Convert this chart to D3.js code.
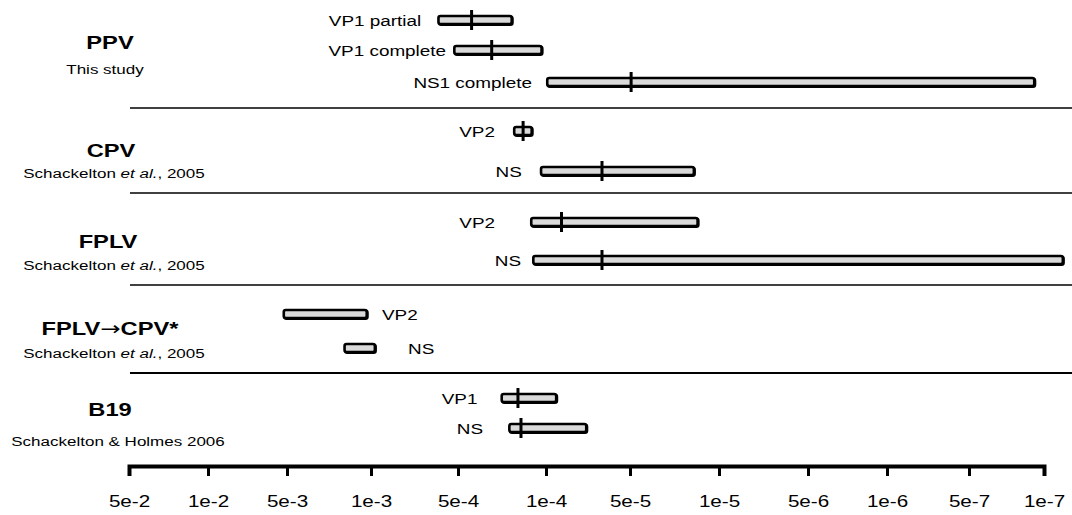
<!DOCTYPE html>
<html>
<head>
<meta charset="utf-8">
<script src="https://cdn.jsdelivr.net/npm/d3@7"></script>
<style>
  html, body { margin: 0; padding: 0; background: #fff; }
  svg { display: block; font-family: "Liberation Sans", Arial, sans-serif; }
</style>
</head>
<body>
<svg id="chart" width="1072" height="515"></svg>
<script>
// ---------------- DATA ----------------
const tickValues = [5e-2, 1e-2, 5e-3, 1e-3, 5e-4, 1e-4, 5e-5, 1e-5, 5e-6, 1e-6, 5e-7, 1e-7];
const tickLabels = ["5e-2", "1e-2", "5e-3", "1e-3", "5e-4", "1e-4", "5e-5", "1e-5", "5e-6", "1e-6", "5e-7", "1e-7"];

const groupNames = [
  [["PPV", 0]],
  [["CPV", 0]],
  [["FPLV", 0]],
  [["FPLV", 0], ["\u2192", 1], ["CPV*", 0]],
  [["B19", 0]]
];
const groupRefs = [
  [["This study", false]],
  [["Schackelton ", false], ["et al.", true], [", 2005", false]],
  [["Schackelton ", false], ["et al.", true], [", 2005", false]],
  [["Schackelton ", false], ["et al.", true], [", 2005", false]],
  [["Schackelton & Holmes 2006", false]]
];

const rowGroup  = [0, 0, 0, 1, 1, 2, 2, 3, 3, 4, 4];
const rowLabels = ["VP1 partial", "VP1 complete", "NS1 complete", "VP2", "NS", "VP2", "NS", "VP2", "NS", "VP1", "NS"];
// substitution rates (subs/site/year): upper HPD, lower HPD, mean
const rateHigh  = [5.9e-4, 5.2e-4, 1.0e-4, 1.83e-4, 1.12e-4, 1.34e-4, 1.29e-4, 5.2e-3, 1.7e-3, 2.3e-4, 2.0e-4];
const rateLow   = [1.83e-4, 1.06e-4, 1.2e-7, 1.27e-4, 1.54e-5, 1.44e-5, 6.5e-8, 1.06e-3, 9.6e-4, 9.1e-5, 7.1e-5];
const rateMean  = [3.9e-4, 2.7e-4, 4.9e-5, 1.52e-4, 6.3e-5, 8.8e-5, 6.3e-5, null, null, 1.67e-4, 1.58e-4];

// ---------------- LAYOUT ----------------
const W = 1072, H = 515;
const xRange = [129, 208, 287, 371, 458, 546, 630, 719, 808, 887, 969, 1044];
const rowY = [20, 50, 82, 131, 171, 222, 260, 314, 348, 398, 428];
const sepY = [108, 193, 285, 373];
const axisY = 466;
const titleY = [49, 157, 248, 335, 416];
const titleX = [110, 111, 108, 110, 110];
const refY = [74, 178, 270, 358, 446];
const refX = [105, 114, 114, 114, 118];
const labelSide = ["l", "l", "l", "l", "l", "l", "l", "r", "r", "l", "l"];
const labelGap = [16, 7, 14, 18, 18, 35, 11, 14, 32, 23, 25];

const svg = d3.select("#chart");

const x = d3.scaleLog().domain(tickValues).range(xRange);
const rows = d3.range(rowLabels.length);
const y = d3.scaleOrdinal().domain(rows).range(rowY);

// separators
svg.append("g").selectAll("line").data(sepY).join("line")
  .attr("x1", 130).attr("x2", W)
  .attr("y1", d => d).attr("y2", d => d)
  .attr("stroke", "#000")
  .attr("stroke-width", (d, i) => i === sepY.length - 1 ? 2 : 1.3);

// group titles
const gt = svg.append("g");
groupNames.forEach((parts, i) => {
  const tt = gt.append("g").attr("transform", `translate(${titleX[i]},${titleY[i]})`)
    .append("text")
    .attr("transform", "scale(1.28,1)")
    .attr("text-anchor", "middle")
    .attr("font-weight", "bold")
    .attr("font-size", 18.5)
    .attr("fill", "#000");
  parts.forEach(([s, arrow]) => {
    const sp = tt.append("tspan").text(s);
    if (arrow) sp.attr("font-family", "DejaVu Sans").attr("font-weight", "normal").attr("font-size", 19);
  });
  const t = gt.append("g").attr("transform", `translate(${refX[i]},${refY[i]})`)
    .append("text")
    .attr("transform", "scale(1.26,1)")
    .attr("text-anchor", "middle")
    .attr("font-size", 13.5)
    .attr("fill", "#000");
  groupRefs[i].forEach(([s, it]) => {
    t.append("tspan").attr("font-style", it ? "italic" : "normal").text(s);
  });
});

// bars
const barH = 8;
const gb = svg.append("g");
// slight shadow on bottom/right like the reference
gb.append("g").selectAll("rect").data(rows).join("rect")
  .attr("x", i => x(rateHigh[i]) + 2)
  .attr("y", i => y(i) - barH / 2 + 0.8)
  .attr("width", i => x(rateLow[i]) - x(rateHigh[i]) - 2.5)
  .attr("height", barH)
  .attr("rx", 2).attr("ry", 2)
  .attr("fill", "none")
  .attr("stroke", "#000")
  .attr("stroke-width", 2.6);
gb.append("g").selectAll("rect").data(rows).join("rect")
  .attr("x", i => x(rateHigh[i]) + 1.25)
  .attr("y", i => y(i) - barH / 2)
  .attr("width", i => x(rateLow[i]) - x(rateHigh[i]) - 2.5)
  .attr("height", barH)
  .attr("rx", 2).attr("ry", 2)
  .attr("fill", "#d9d9d9")
  .attr("stroke", "#000")
  .attr("stroke-width", 2.6);

gb.append("g").selectAll("line").data(rows.filter(i => rateMean[i] != null)).join("line")
  .attr("x1", i => x(rateMean[i])).attr("x2", i => x(rateMean[i]))
  .attr("y1", i => y(i) - 10).attr("y2", i => y(i) + 10)
  .attr("stroke", "#000").attr("stroke-width", 3);

// row labels
const gl = svg.append("g");
rows.forEach(i => {
  const left = labelSide[i] === "l";
  const xx = left ? x(rateHigh[i]) - labelGap[i] : x(rateLow[i]) + labelGap[i];
  gl.append("g").attr("transform", `translate(${xx},${y(i)})`)
    .append("text")
    .attr("transform", "scale(1.22,1)")
    .attr("text-anchor", left ? "end" : "start")
    .attr("dy", "0.36em")
    .attr("font-size", 15.5)
    .attr("fill", "#000")
    .text(rowLabels[i]);
});

// axis
const axis = d3.axisBottom(x)
  .tickValues(tickValues)
  .tickFormat((d, i) => tickLabels[i])
  .tickSize(10).tickSizeOuter(10).tickPadding(19);
const ga = svg.append("g").attr("transform", `translate(0,${axisY})`).call(axis);
ga.select(".domain").attr("stroke", "#000").attr("stroke-width", 4).attr("fill", "none");
ga.selectAll(".tick line").attr("stroke", "#000").attr("stroke-width", 3);
ga.selectAll(".tick text")
  .attr("font-family", "\"Liberation Sans\", Arial, sans-serif")
  .attr("font-size", 16.5)
  .attr("fill", "#000")
  .attr("transform", "scale(1.25,1)");
</script>
</body>
</html>
